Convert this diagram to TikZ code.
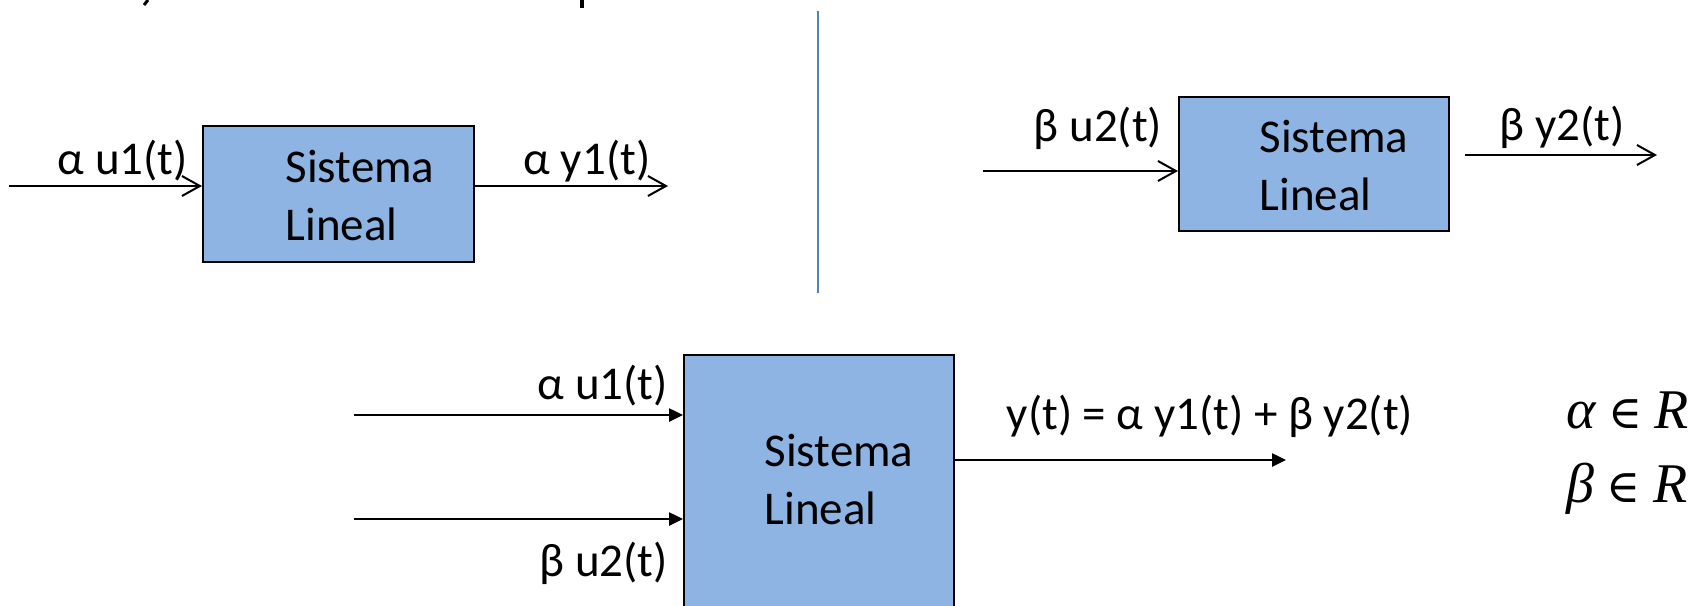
\documentclass[tikz,border=0pt]{standalone}
\usepackage{fontspec}
\setmainfont{Carlito}
\newfontfamily\serifit{Liberation Serif}
\newfontfamily\dvs{DejaVu Serif}
\usetikzlibrary{arrows.meta}
\definecolor{boxfill}{RGB}{142,180,227}
\definecolor{sepblue}{RGB}{79,129,189}
\tikzset{
  sysbox/.style={draw=black, line width=2pt, fill=boxfill, inner sep=0pt},
  lbl/.style={inner sep=0pt, font=\fontsize{47}{58}\selectfont},
  systext/.style={inner sep=0pt, align=left, font=\fontsize{47}{58}\selectfont},
  openarrow/.style={line width=2pt, -{Straight Barb[length=18pt,width=20pt,line width=2pt]}},
  filledarrow/.style={line width=2.5pt, -{Triangle[length=14pt,width=13pt]}},
  mathlbl/.style={inner sep=0pt, anchor=west, font=\fontsize{56}{64}\selectfont}
}
\newcommand{\elemof}{{\dvs\fontsize{46}{56}\selectfont ∈}}
\begin{document}
\begin{tikzpicture}[x=1pt,y=-1pt]
\useasboundingbox (0,0) rectangle (1704,605);
% cut-off fragments of a heading line
\draw[line width=3pt] (148,0) -- (144,5);
\fill (580,0) rectangle (584,8);
% separator
\draw[sepblue, line width=2.5pt] (818,11) -- (818,293);
% top-left system
\node[sysbox, minimum width=271pt, minimum height=136pt] (b1) at (338.5,194) {};
\node[systext] (t1) at (360,196) {Sistema\\Lineal};
\coordinate (in1) at (9,186);
\coordinate (out1) at (668,186);
\draw[openarrow] (in1) -- (in1 -| b1.west);
\draw[openarrow] (out1 -| b1.east) -- (out1);
\node[lbl] (l1) at (123,161) {α u1(t)};
\node[lbl] (l2) at (587,161) {α y1(t)};
% top-right system
\node[sysbox, minimum width=270pt, minimum height=134pt] (b2) at (1314,164) {};
\node[systext] (t2) at (1334,166) {Sistema\\Lineal};
\coordinate (in2) at (983,171);
\coordinate (out2a) at (1465,155);
\coordinate (out2b) at (1657,155);
\draw[openarrow] (in2) -- (in2 -| b2.west);
\draw[openarrow] (out2a) -- (out2b);
\node[lbl] (l3) at (1098,128) {β u2(t)};
\node[lbl] (l4) at (1562,127) {β y2(t)};
% bottom system
\node[sysbox, minimum width=270pt, minimum height=280pt, anchor=north] (b3) at (819,354) {};
\node[systext] (t3) at (839,479) {Sistema\\Lineal};
\coordinate (in3) at (354,415);
\coordinate (in4) at (354,519);
\coordinate (out3) at (1286,460);
\draw[filledarrow] (in3) -- (in3 -| b3.west);
\draw[filledarrow] (in4) -- (in4 -| b3.west);
\draw[filledarrow] (out3 -| b3.east) -- (out3);
\node[lbl, anchor=east] (l5) at (668,386) {α u1(t)};
\node[lbl, anchor=east] (l6) at (668,563) {β u2(t)};
\node[lbl] (l7) at (1210,416) {y(t) = α y1(t) + β y2(t)};
\node[mathlbl] (m1) at (1566,410) {{\serifit\itshape α} \elemof{} {\serifit\itshape R}};
\node[mathlbl] (m2) at (1566,489) {{\serifit\itshape β} \elemof{} {\serifit\itshape R}};
\end{tikzpicture}
\end{document}
